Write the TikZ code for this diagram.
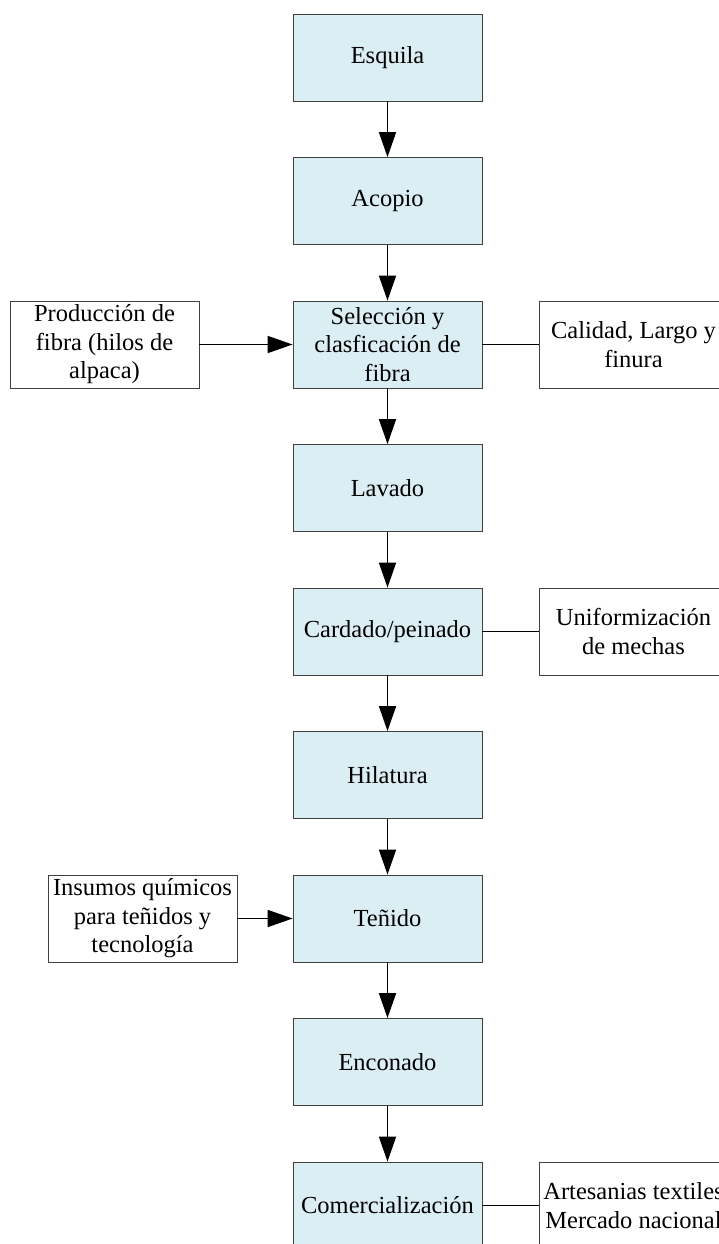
\documentclass[tikz,border=0pt]{standalone}
\usepackage{fontspec}
\setmainfont{Liberation Serif}
\usetikzlibrary{arrows.meta}
\definecolor{boxblue}{RGB}{219,238,244}
\begin{document}
\begin{tikzpicture}[x=1pt,y=-1pt,
  every node/.style={font=\fontsize{24.5}{28.5}\selectfont, align=center, inner sep=0pt},
  procbox/.style={draw=black!75, line width=0.8pt, fill=boxblue, minimum width=189pt, minimum height=87pt},
  sidebox/.style={draw=black!75, line width=0.8pt, fill=white, minimum width=189pt, minimum height=87pt},
  flow/.style={line width=1.7pt, -{Triangle[length=25pt,width=17pt]}},
  link/.style={line width=1.5pt}]
\useasboundingbox (0,0) rectangle (719,1244);
\clip (0,0) rectangle (719,1244);
\fill[white] (0,0) rectangle (719,1244);
\node[procbox] (esq) at (387.5,57.5) {Esquila};
\node[procbox] (aco) at (387.5,201) {Acopio};
\node[procbox] (sel) at (387.5,344.5) {Selección y\\clasficación de\\fibra};
\node[procbox] (lav) at (387.5,488) {Lavado};
\node[procbox] (car) at (387.5,631.5) {Cardado/peinado};
\node[procbox] (hil) at (387.5,775) {Hilatura};
\node[procbox] (ten) at (387.5,918.5) {Teñido};
\node[procbox] (enc) at (387.5,1062) {Enconado};
\node[procbox] (com) at (387.5,1205.5) {Comercialización};
\node[sidebox] (pro) at (104.5,344.5) {Producción de\\fibra (hilos de\\alpaca)};
\node[sidebox] (cal) at (633.5,344.5) {Calidad, Largo y\\finura};
\node[sidebox] (uni) at (633.5,631.5) {Uniformización\\de mechas};
\node[sidebox] (ins) at (142.5,918.5) {Insumos químicos\\para teñidos y\\tecnología};
\node[sidebox] (art) at (633.5,1205.5) {Artesanias textiles\\Mercado nacional};
\draw[flow] (esq) -- (aco);
\draw[flow] (aco) -- (sel);
\draw[flow] (sel) -- (lav);
\draw[flow] (lav) -- (car);
\draw[flow] (car) -- (hil);
\draw[flow] (hil) -- (ten);
\draw[flow] (ten) -- (enc);
\draw[flow] (enc) -- (com);
\draw[flow] (pro) -- (sel);
\draw[flow] (ins) -- (ten);
\draw[link] (sel) -- (cal);
\draw[link] (car) -- (uni);
\draw[link] (com) -- (art);
\end{tikzpicture}
\end{document}
